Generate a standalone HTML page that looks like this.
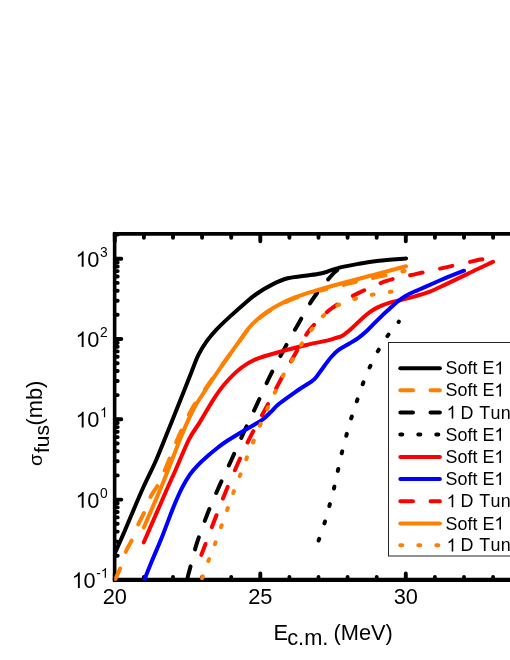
<!DOCTYPE html>
<html><head><meta charset="utf-8"><title>chart</title>
<style>html,body{margin:0;padding:0;background:#fff;}svg{display:block;will-change:transform;transform:translateZ(0);}text{font-family:"Liberation Sans",sans-serif;fill:#000;font-kerning:none;}</style></head><body>
<svg width="510" height="660" viewBox="0 0 510 660">
<rect width="510" height="660" fill="#fff"/>
<path d="M514,579.9 H112.85" stroke="#000" stroke-width="4.2" fill="none"/>
<path d="M514,233.9 H112.85" stroke="#000" stroke-width="3.7" fill="none"/>
<path d="M114.65,233.6 V580.1999999999999" stroke="#000" stroke-width="3.6" fill="none" stroke-linecap="round"/>
<path d="M114.8,579.9 v-6.5 M114.8,233.9 v7.45 M143.9,579.9 v-2.9 M143.9,233.9 v3.8499999999999996 M173.0,579.9 v-2.9 M173.0,233.9 v3.8499999999999996 M202.1,579.9 v-2.9 M202.1,233.9 v3.8499999999999996 M231.2,579.9 v-2.9 M231.2,233.9 v3.8499999999999996 M260.3,579.9 v-6.5 M260.3,233.9 v7.45 M289.4,579.9 v-2.9 M289.4,233.9 v3.8499999999999996 M318.5,579.9 v-2.9 M318.5,233.9 v3.8499999999999996 M347.6,579.9 v-2.9 M347.6,233.9 v3.8499999999999996 M376.7,579.9 v-2.9 M376.7,233.9 v3.8499999999999996 M405.8,579.9 v-6.5 M405.8,233.9 v7.45 M434.9,579.9 v-2.9 M434.9,233.9 v3.8499999999999996 M464.0,579.9 v-2.9 M464.0,233.9 v3.8499999999999996 M493.1,579.9 v-2.9 M493.1,233.9 v3.8499999999999996 M114.8,579.9 h6.5 M114.8,555.7 h2.9 M114.8,541.6 h2.9 M114.8,531.6 h2.9 M114.8,523.8 h2.9 M114.8,517.4 h2.9 M114.8,512.0 h2.9 M114.8,507.4 h2.9 M114.8,503.3 h2.9 M114.8,499.6 h6.5 M114.8,475.4 h2.9 M114.8,461.3 h2.9 M114.8,451.3 h2.9 M114.8,443.5 h2.9 M114.8,437.1 h2.9 M114.8,431.7 h2.9 M114.8,427.1 h2.9 M114.8,423.0 h2.9 M114.8,419.3 h6.5 M114.8,395.1 h2.9 M114.8,381.0 h2.9 M114.8,371.0 h2.9 M114.8,363.2 h2.9 M114.8,356.8 h2.9 M114.8,351.4 h2.9 M114.8,346.8 h2.9 M114.8,342.7 h2.9 M114.8,339.0 h6.5 M114.8,314.8 h2.9 M114.8,300.7 h2.9 M114.8,290.7 h2.9 M114.8,282.9 h2.9 M114.8,276.5 h2.9 M114.8,271.1 h2.9 M114.8,266.5 h2.9 M114.8,262.4 h2.9 M114.8,258.7 h6.5 M114.8,234.5 h2.9" stroke="#000" stroke-width="3.9" stroke-linecap="round" fill="none"/>
<defs><clipPath id="pc"><rect x="114.2" y="225" width="400" height="355.8"/></clipPath></defs><g clip-path="url(#pc)">
<path d="M114.8,553.5 C116.5,549.6 120.5,540.9 125.0,530.3 C129.6,519.7 136.9,501.7 142.1,490.0 C147.3,478.3 151.9,469.8 156.2,460.0 C160.5,450.2 164.2,440.3 168.0,431.0 C171.8,421.7 176.0,410.9 178.8,404.0 C181.6,397.1 182.5,394.8 184.6,389.5 C186.7,384.2 189.2,377.7 191.5,372.0 C193.8,366.3 195.8,360.3 198.3,355.2 C200.8,350.1 203.6,345.6 206.6,341.4 C209.6,337.2 212.3,333.9 216.2,329.8 C220.1,325.7 225.1,321.0 229.9,316.6 C234.7,312.2 240.6,307.0 245.0,303.2 C249.4,299.4 251.9,297.1 256.4,294.0 C260.9,290.9 266.9,287.2 272.1,284.6 C277.3,282.0 282.2,279.8 287.7,278.3 C293.2,276.8 299.5,276.6 305.0,275.8 C310.5,275.0 316.4,274.4 320.6,273.5 C324.8,272.6 326.8,271.7 330.0,270.7 C333.2,269.7 334.7,268.8 339.6,267.6 C344.5,266.4 352.7,264.9 359.2,263.7 C365.7,262.5 371.0,261.6 378.8,260.7 C386.6,259.8 401.6,258.8 406.1,258.4" fill="none" stroke="#000000" stroke-width="4.0" stroke-linecap="round" stroke-linejoin="round"/>
<path d="M114.8,580.0 C115.7,578.0 118.4,573.0 120.2,568.3 C122.0,563.6 123.9,556.5 125.8,551.8 C127.7,547.1 129.7,544.8 131.7,540.3 C133.7,535.8 135.9,529.7 138.0,525.0 C140.1,520.3 142.2,517.0 144.3,512.3 C146.4,507.6 148.2,501.7 150.5,497.0 C152.8,492.3 155.9,488.9 158.4,484.2 C160.9,479.5 162.0,476.8 165.3,468.9 C168.7,461.0 174.1,446.8 178.5,436.9 C182.9,427.0 187.2,417.6 191.5,409.8 C195.8,402.0 200.2,396.4 204.5,390.0 C208.8,383.6 213.3,377.2 217.5,371.3 C221.7,365.4 226.3,359.3 229.8,354.5 C233.3,349.7 235.2,347.1 238.6,342.5 C242.0,337.9 245.8,331.7 250.1,327.0 C254.4,322.3 259.2,318.2 264.2,314.5 C269.2,310.8 274.7,307.8 279.9,305.0 C285.1,302.2 289.7,300.2 295.6,298.0 C301.5,295.8 307.9,293.9 315.5,291.8 C323.1,289.7 332.5,287.6 341.0,285.5 C349.5,283.4 358.0,281.2 366.5,279.3 C375.0,277.4 385.7,275.4 392.0,274.0 C398.3,272.6 402.4,271.5 404.5,271.0" fill="none" stroke="#ff8000" stroke-width="4.0" stroke-linecap="round" stroke-linejoin="round" stroke-dasharray="12.7 17.5"/>
<path d="M187.5,578.3 C187.7,577.3 187.3,578.3 188.9,572.5 C190.5,566.7 193.8,552.9 196.8,543.4 C199.8,533.9 203.3,524.6 206.9,515.3 C210.5,506.0 214.5,496.9 218.6,487.6 C222.7,478.3 227.4,468.8 231.6,459.5 C235.8,450.2 239.8,441.0 244.0,431.9 C248.2,422.8 252.5,413.8 256.8,404.6 C261.1,395.4 265.1,386.1 269.6,376.9 C274.1,367.7 279.2,358.4 283.9,349.6 C288.6,340.9 293.1,332.9 298.0,324.4 C302.9,315.9 307.6,306.7 313.2,298.5 C318.8,290.3 327.7,279.9 331.8,275.2 C335.9,270.4 336.6,270.9 337.6,270.0" fill="none" stroke="#000000" stroke-width="4.0" stroke-linecap="round" stroke-linejoin="round" stroke-dasharray="12.7 17.51" stroke-dashoffset="0.37"/>
<path d="M318.2,541.6 L318.6,540.5 C319.6,537.6 322.7,528.9 324.5,523.1 C326.3,517.3 327.9,511.4 329.5,505.5 C331.1,499.6 332.7,493.8 334.1,487.8 C335.5,481.8 336.8,475.6 338.1,469.6 C339.4,463.6 340.7,457.8 342.1,451.8 C343.6,445.9 345.2,439.7 346.8,433.9 C348.4,428.1 349.9,422.5 351.7,416.8 C353.4,411.1 355.4,405.5 357.3,399.8 C359.2,394.1 361.1,388.4 363.2,382.9 C365.3,377.3 367.6,371.9 370.1,366.5 C372.6,361.1 375.4,355.5 378.3,350.4 C381.2,345.3 384.3,340.4 387.6,335.8 C390.9,331.2 396.4,324.8 398.1,322.6 L398.8,321.7" fill="none" stroke="#000000" stroke-width="4.0" stroke-linecap="round" stroke-linejoin="round" stroke-dasharray="2 16.06" stroke-dashoffset="-1.16"/>
<path d="M143.8,542.3 C147.6,533.6 161.3,502.1 166.6,490.0 C171.9,477.9 171.9,478.4 175.6,470.0 C179.3,461.6 184.9,447.5 189.0,439.4 C193.1,431.3 196.0,428.4 200.2,421.6 C204.4,414.8 209.8,405.0 214.0,398.6 C218.2,392.2 221.0,388.1 225.5,383.0 C230.0,377.9 236.0,371.9 241.0,368.0 C246.0,364.1 248.8,362.1 255.5,359.3 C262.2,356.6 272.5,353.9 281.0,351.5 C289.5,349.1 298.9,346.8 306.5,345.0 C314.1,343.2 322.1,341.7 326.9,340.6 C331.6,339.5 332.4,339.1 335.0,338.2 C337.6,337.3 340.2,336.9 342.8,335.4 C345.4,333.9 348.1,331.6 350.7,329.3 C353.3,327.1 355.9,324.3 358.5,321.9 C361.1,319.5 363.8,316.9 366.4,314.8 C369.0,312.7 371.6,310.9 374.2,309.3 C376.8,307.7 379.5,306.5 382.1,305.4 C384.7,304.3 387.3,303.4 389.9,302.6 C392.5,301.8 395.1,301.3 397.7,300.7 C400.3,300.1 402.7,299.5 405.6,298.8 C408.5,298.1 410.9,297.5 415.0,296.3 C419.1,295.1 424.9,293.6 430.0,291.6 C435.1,289.6 440.5,286.8 445.7,284.4 C450.9,281.9 456.2,279.4 461.4,276.9 C466.6,274.4 471.8,271.8 477.1,269.3 C482.4,266.8 490.4,263.1 493.0,261.8" fill="none" stroke="#ff0000" stroke-width="4.0" stroke-linecap="round" stroke-linejoin="round"/>
<path d="M144.4,579.8 C145.7,576.5 149.1,567.8 152.2,560.3 C155.3,552.8 159.3,543.7 162.8,534.9 C166.3,526.1 170.2,515.1 173.4,507.3 C176.6,499.5 179.1,493.7 181.9,488.2 C184.7,482.7 187.3,478.3 190.0,474.4 C192.7,470.5 195.1,468.0 198.2,464.8 C201.3,461.6 205.2,458.2 208.5,455.3 C211.8,452.4 214.9,449.9 218.0,447.5 C221.1,445.1 222.8,443.7 227.3,440.8 C231.8,437.9 239.3,433.4 245.0,430.0 C250.7,426.6 257.2,423.2 261.5,420.3 C265.8,417.4 267.6,415.1 270.5,412.3 C273.4,409.6 274.7,407.4 279.1,403.8 C283.5,400.2 292.5,394.0 296.8,391.0 C301.1,388.0 302.0,387.7 305.0,385.7 C308.0,383.7 311.7,381.9 314.7,378.9 C317.7,375.9 320.1,371.5 322.9,367.9 C325.6,364.2 328.7,359.9 331.2,357.0 C333.7,354.1 335.0,352.5 338.0,350.3 C341.0,348.1 345.6,345.9 349.0,343.8 C352.4,341.7 355.6,339.9 358.5,337.8 C361.4,335.7 363.8,333.7 366.4,331.3 C369.0,328.9 371.6,326.0 374.2,323.4 C376.8,320.8 379.5,318.1 382.1,315.6 C384.7,313.1 387.3,310.9 389.9,308.5 C392.5,306.1 395.1,303.6 397.7,301.5 C400.3,299.4 402.7,297.7 405.6,296.0 C408.5,294.3 411.7,292.8 415.0,291.3 C418.3,289.8 420.4,288.9 425.3,286.8 C430.2,284.7 437.7,281.4 444.1,278.7 C450.6,276.0 460.7,272.0 464.0,270.7" fill="none" stroke="#0000ff" stroke-width="4.0" stroke-linecap="round" stroke-linejoin="round"/>
<path d="M201.4,554.8 C201.8,553.9 201.3,554.9 203.5,549.2 C205.7,543.5 210.8,530.0 214.4,520.5 C218.1,511.0 221.6,501.8 225.4,492.4 C229.2,483.0 233.4,473.5 237.5,464.3 C241.6,455.1 245.6,446.3 250.2,437.2 C254.8,428.1 260.2,418.7 265.0,409.7 C269.8,400.7 274.1,392.0 278.9,383.1 C283.7,374.2 288.8,364.9 293.9,356.2 C298.9,347.4 303.0,338.5 309.2,330.6 C315.4,322.7 322.5,315.3 330.8,309.0 C339.1,302.7 349.5,297.6 358.8,292.9 C368.1,288.2 377.1,284.1 386.7,280.9 C396.3,277.7 406.4,276.2 416.5,273.9 C426.6,271.6 436.9,269.4 447.0,267.1 C457.1,264.8 471.1,261.6 477.0,260.3 C482.9,259.0 481.7,259.5 482.6,259.3" fill="none" stroke="#ff0000" stroke-width="4.0" stroke-linecap="round" stroke-linejoin="round" stroke-dasharray="12.7 17.95" stroke-dashoffset="1.05"/>
<path d="M143.8,527.4 C146.5,521.2 155.3,501.2 160.0,490.0 C164.7,478.8 168.5,468.9 172.0,460.0 C175.5,451.1 177.5,445.3 181.0,436.9 C184.5,428.5 189.1,417.6 193.2,409.8 C197.3,402.0 201.4,396.4 205.5,390.0 C209.6,383.6 213.9,377.2 218.0,371.3 C222.1,365.4 226.4,359.4 229.8,354.5 C233.2,349.6 235.2,346.9 238.6,342.2 C242.0,337.5 245.8,331.2 250.1,326.5 C254.4,321.8 259.2,317.5 264.2,313.8 C269.2,310.1 274.7,307.0 279.9,304.2 C285.1,301.4 289.7,299.4 295.6,297.2 C301.5,294.9 307.9,293.0 315.5,290.7 C323.1,288.4 332.5,285.8 341.0,283.5 C349.5,281.2 358.0,278.9 366.5,276.7 C375.0,274.4 385.4,271.8 392.0,270.0 C398.6,268.2 403.8,266.8 406.1,266.2" fill="none" stroke="#ff8000" stroke-width="4.0" stroke-linecap="round" stroke-linejoin="round"/>
<path d="M201.6,579.6 L202.0,578.5 C203.1,575.5 206.2,566.6 208.4,560.8 C210.6,555.0 212.9,549.6 215.0,543.9 C217.1,538.2 219.1,532.3 221.2,526.5 C223.3,520.7 225.3,515.1 227.4,509.3 C229.5,503.5 231.6,497.5 233.7,491.8 C235.8,486.1 238.0,480.6 240.2,474.9 C242.4,469.2 244.6,463.3 246.8,457.7 C249.0,452.1 251.3,446.5 253.6,441.0 C255.9,435.5 258.0,430.1 260.4,424.5 C262.8,418.9 265.3,413.2 267.9,407.5 C270.5,401.8 273.1,396.1 275.8,390.5 C278.5,384.9 281.2,379.0 284.1,373.8 C287.0,368.6 289.9,364.2 292.9,359.2 C295.8,354.2 298.7,348.7 301.8,343.8 C304.9,338.9 308.1,334.2 311.5,329.7 C314.9,325.1 318.2,320.5 322.5,316.5 C326.8,312.5 331.7,308.6 337.0,305.7 C342.3,302.8 348.3,300.8 354.2,299.0 C360.1,297.2 366.1,295.9 372.1,294.7 C378.1,293.5 387.2,292.3 390.2,291.8 L391.4,291.6" fill="none" stroke="#ff8000" stroke-width="4.0" stroke-linecap="round" stroke-linejoin="round" stroke-dasharray="2 16.11" stroke-dashoffset="-1.64"/>
</g>
<rect x="388.5" y="342.5" width="140" height="213.5" fill="#fff" stroke="#222" stroke-width="1"/>
<path d="M400.3,368.2 H439.9" stroke="#000000" stroke-width="4.0" stroke-linecap="round" fill="none"/>
<text x="445.6" y="374.3" font-size="17.9">Soft E</text>
<path d="M763 0H583V1147Q518 1085 412.5 1023Q307 961 223 930V1104Q374 1175 487 1276Q600 1377 647 1472H763Z" transform="translate(494.33,374.30) scale(0.00874,-0.00874)" fill="#000"/>
<path d="M400.3,390.3 H439.9" stroke="#ff8000" stroke-width="4.0" stroke-linecap="round" fill="none" stroke-dasharray="12.7 17.5"/>
<text x="445.6" y="396.4" font-size="17.9">Soft E</text>
<path d="M763 0H583V1147Q518 1085 412.5 1023Q307 961 223 930V1104Q374 1175 487 1276Q600 1377 647 1472H763Z" transform="translate(494.33,396.40) scale(0.00874,-0.00874)" fill="#000"/>
<path d="M400.3,412.5 H439.9" stroke="#000000" stroke-width="4.0" stroke-linecap="round" fill="none" stroke-dasharray="12.7 17.5"/>
<path d="M763 0H583V1147Q518 1085 412.5 1023Q307 961 223 930V1104Q374 1175 487 1276Q600 1377 647 1472H763Z" transform="translate(446.60,418.60) scale(0.00874,-0.00874)" fill="#000"/>
<text x="455.25" y="418.6" font-size="17.9" letter-spacing="0.35" xml:space="preserve"> D Tunneling</text>
<path d="M400.3,434.6 H439.9" stroke="#000000" stroke-width="4.0" stroke-linecap="round" fill="none" stroke-dasharray="2 16"/>
<text x="445.6" y="440.7" font-size="17.9">Soft E</text>
<path d="M763 0H583V1147Q518 1085 412.5 1023Q307 961 223 930V1104Q374 1175 487 1276Q600 1377 647 1472H763Z" transform="translate(494.33,440.70) scale(0.00874,-0.00874)" fill="#000"/>
<path d="M400.3,457.0 H439.9" stroke="#ff0000" stroke-width="4.0" stroke-linecap="round" fill="none"/>
<text x="445.6" y="463.1" font-size="17.9">Soft E</text>
<path d="M763 0H583V1147Q518 1085 412.5 1023Q307 961 223 930V1104Q374 1175 487 1276Q600 1377 647 1472H763Z" transform="translate(494.33,463.10) scale(0.00874,-0.00874)" fill="#000"/>
<path d="M400.3,479.0 H439.9" stroke="#0000ff" stroke-width="4.0" stroke-linecap="round" fill="none"/>
<text x="445.6" y="485.1" font-size="17.9">Soft E</text>
<path d="M763 0H583V1147Q518 1085 412.5 1023Q307 961 223 930V1104Q374 1175 487 1276Q600 1377 647 1472H763Z" transform="translate(494.33,485.10) scale(0.00874,-0.00874)" fill="#000"/>
<path d="M400.3,501.2 H439.9" stroke="#ff0000" stroke-width="4.0" stroke-linecap="round" fill="none" stroke-dasharray="12.7 17.5"/>
<path d="M763 0H583V1147Q518 1085 412.5 1023Q307 961 223 930V1104Q374 1175 487 1276Q600 1377 647 1472H763Z" transform="translate(446.60,507.30) scale(0.00874,-0.00874)" fill="#000"/>
<text x="455.25" y="507.3" font-size="17.9" letter-spacing="0.35" xml:space="preserve"> D Tunneling</text>
<path d="M400.3,523.4 H439.9" stroke="#ff8000" stroke-width="4.0" stroke-linecap="round" fill="none"/>
<text x="445.6" y="529.5" font-size="17.9">Soft E</text>
<path d="M763 0H583V1147Q518 1085 412.5 1023Q307 961 223 930V1104Q374 1175 487 1276Q600 1377 647 1472H763Z" transform="translate(494.33,529.50) scale(0.00874,-0.00874)" fill="#000"/>
<path d="M400.3,545.3 H439.9" stroke="#ff8000" stroke-width="4.0" stroke-linecap="round" fill="none" stroke-dasharray="2 16"/>
<path d="M763 0H583V1147Q518 1085 412.5 1023Q307 961 223 930V1104Q374 1175 487 1276Q600 1377 647 1472H763Z" transform="translate(446.60,551.40) scale(0.00874,-0.00874)" fill="#000"/>
<text x="455.25" y="551.4" font-size="17.9" letter-spacing="0.35" xml:space="preserve"> D Tunneling</text>
<path d="M763 0H583V1147Q518 1085 412.5 1023Q307 961 223 930V1104Q374 1175 487 1276Q600 1377 647 1472H763Z" transform="translate(71.70,588.00) scale(0.01064,-0.01064)" fill="#000"/>
<text x="83.4" y="588.0" font-size="21.8">0</text>
<text x="96.2" y="577.8" font-size="13.8">-</text>
<path d="M763 0H583V1147Q518 1085 412.5 1023Q307 961 223 930V1104Q374 1175 487 1276Q600 1377 647 1472H763Z" transform="translate(100.80,577.80) scale(0.00674,-0.00674)" fill="#000"/>
<path d="M763 0H583V1147Q518 1085 412.5 1023Q307 961 223 930V1104Q374 1175 487 1276Q600 1377 647 1472H763Z" transform="translate(75.50,507.70) scale(0.01064,-0.01064)" fill="#000"/>
<text x="87.2" y="507.7" font-size="21.8">0</text>
<text x="100.0" y="497.5" font-size="13.8">0</text>
<path d="M763 0H583V1147Q518 1085 412.5 1023Q307 961 223 930V1104Q374 1175 487 1276Q600 1377 647 1472H763Z" transform="translate(75.50,427.40) scale(0.01064,-0.01064)" fill="#000"/>
<text x="87.2" y="427.4" font-size="21.8">0</text>
<path d="M763 0H583V1147Q518 1085 412.5 1023Q307 961 223 930V1104Q374 1175 487 1276Q600 1377 647 1472H763Z" transform="translate(100.00,417.20) scale(0.00674,-0.00674)" fill="#000"/>
<path d="M763 0H583V1147Q518 1085 412.5 1023Q307 961 223 930V1104Q374 1175 487 1276Q600 1377 647 1472H763Z" transform="translate(75.50,347.10) scale(0.01064,-0.01064)" fill="#000"/>
<text x="87.2" y="347.1" font-size="21.8">0</text>
<text x="100.0" y="336.9" font-size="13.8">2</text>
<path d="M763 0H583V1147Q518 1085 412.5 1023Q307 961 223 930V1104Q374 1175 487 1276Q600 1377 647 1472H763Z" transform="translate(75.50,266.80) scale(0.01064,-0.01064)" fill="#000"/>
<text x="87.2" y="266.8" font-size="21.8">0</text>
<text x="100.0" y="256.6" font-size="13.8">3</text>
<text x="114.8" y="604.3" font-size="21.8" text-anchor="middle">20</text>
<text x="260.3" y="604.3" font-size="21.8" text-anchor="middle">25</text>
<text x="405.8" y="604.3" font-size="21.8" text-anchor="middle">30</text>
<text x="273.5" y="639.8" font-size="21.8">E</text>
<text x="287.2" y="645.3" font-size="21.8">c.m.</text>
<text x="333.5" y="639.8" font-size="21.8">(MeV)</text>
<g transform="translate(41.5,465.9) rotate(-90)"><text x="0" y="0" font-size="17.5" transform="scale(1.12,1)">σ</text><text x="12.9" y="7.6" font-size="21">fus</text><text x="40.4" y="0" font-size="21.8">(mb)</text></g>
</svg></body></html>
